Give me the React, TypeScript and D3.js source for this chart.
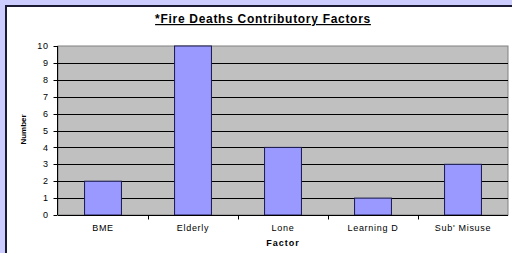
import { useEffect, useRef } from 'react';
import * as d3 from 'd3';

const factors = ['BME', 'Elderly', 'Lone', 'Learning D', "Sub' Misuse"];
const deaths = [2, 10, 4, 1, 3];
const yTicks = [0, 1, 2, 3, 4, 5, 6, 7, 8, 9, 10];

export default function App() {
  const svgRef = useRef<SVGSVGElement>(null);

  useEffect(() => {
    if (!svgRef.current) return;
    const svg = d3.select(svgRef.current);
    svg.selectAll('*').remove();

    const width = 512;
    const height = 253;
    const margin = { top: 46, right: 4, bottom: 38, left: 58 };
    const innerWidth = width - margin.left - margin.right;
    const innerHeight = height - margin.top - margin.bottom;
    const font = 'Arial, "Liberation Sans", Helvetica, sans-serif';

    // outer lavender frame + white panel
    svg.append('rect').attr('width', width).attr('height', height).attr('fill', '#ccccff');
    svg.append('rect')
      .attr('x', 6).attr('y', 6)
      .attr('width', width + 10).attr('height', height + 10)
      .attr('fill', '#ffffff')
      .attr('stroke', '#1a1a33')
      .attr('stroke-width', 2);

    svg.append('text')
      .attr('x', 263)
      .attr('y', 23)
      .attr('text-anchor', 'middle')
      .attr('font-family', font)
      .attr('font-size', 12)
      .attr('font-weight', 'bold')
      .attr('letter-spacing', 0.7)
      .attr('text-decoration', 'underline')
      .attr('fill', '#000')
      .text('*Fire Deaths Contributory Factors');

    const x = d3.scaleBand<string>().domain(factors).range([0, innerWidth]).paddingInner(0).paddingOuter(0);
    const y = d3.scaleLinear().domain([0, 10]).range([innerHeight, 0]);

    const g = svg.append('g').attr('transform', `translate(${margin.left},${margin.top})`);

    g.append('rect')
      .attr('width', innerWidth)
      .attr('height', innerHeight)
      .attr('fill', '#c0c0c0')
      .attr('stroke', '#808080')
      .attr('stroke-width', 1);

    g.selectAll('line.grid')
      .data(yTicks.filter((t) => t > 0 && t < 10))
      .join('line')
      .attr('class', 'grid')
      .attr('x1', 0)
      .attr('x2', innerWidth)
      .attr('y1', (d) => Math.round(y(d)) + 0.5)
      .attr('y2', (d) => Math.round(y(d)) + 0.5)
      .attr('stroke', '#000')
      .attr('stroke-width', 1);

    const barW = x.bandwidth() * 0.41;
    g.selectAll('rect.bar')
      .data(deaths)
      .join('rect')
      .attr('class', 'bar')
      .attr('x', (_, i) => (x(factors[i]) ?? 0) + (x.bandwidth() - barW) / 2)
      .attr('y', (d) => y(d))
      .attr('width', barW)
      .attr('height', (d) => innerHeight - y(d))
      .attr('fill', '#9999ff')
      .attr('stroke', '#1a1a4d')
      .attr('stroke-width', 1);

    // y axis
    const yAxis = g.append('g').attr('transform', 'translate(-0.5,0)');
    yAxis.append('line')
      .attr('y1', 0).attr('y2', innerHeight)
      .attr('stroke', '#000').attr('stroke-width', 1);
    yAxis.selectAll('line.tick')
      .data(yTicks)
      .join('line')
      .attr('class', 'tick')
      .attr('x1', -4).attr('x2', 0)
      .attr('y1', (d) => Math.round(y(d)) + 0.5)
      .attr('y2', (d) => Math.round(y(d)) + 0.5)
      .attr('stroke', '#000');
    yAxis.selectAll('text')
      .data(yTicks)
      .join('text')
      .attr('x', -9)
      .attr('y', (d) => y(d))
      .attr('dy', '0.35em')
      .attr('text-anchor', 'end')
      .attr('font-family', font)
      .attr('font-size', 9)
      .attr('letter-spacing', 0.6)
      .attr('fill', '#000')
      .text((d) => d);

    // x axis
    const xAxis = g.append('g').attr('transform', `translate(0,${innerHeight + 0.5})`);
    xAxis.append('line')
      .attr('x1', 0).attr('x2', innerWidth)
      .attr('stroke', '#000').attr('stroke-width', 1);
    xAxis.selectAll('line.tick')
      .data(factors.slice(1))
      .join('line')
      .attr('class', 'tick')
      .attr('x1', (d) => Math.round(x(d) ?? 0) + 0.5)
      .attr('x2', (d) => Math.round(x(d) ?? 0) + 0.5)
      .attr('y1', 0).attr('y2', 4)
      .attr('stroke', '#000');
    xAxis.selectAll('text')
      .data(factors)
      .join('text')
      .attr('x', (d) => (x(d) ?? 0) + x.bandwidth() / 2)
      .attr('y', 15.5)
      .attr('text-anchor', 'middle')
      .attr('font-family', font)
      .attr('font-size', 9)
      .attr('letter-spacing', 0.7)
      .attr('fill', '#000')
      .text((d) => d);

    g.append('text')
      .attr('x', innerWidth / 2)
      .attr('y', innerHeight + 30.5)
      .attr('text-anchor', 'middle')
      .attr('font-family', font)
      .attr('font-size', 9)
      .attr('font-weight', 'bold')
      .attr('letter-spacing', 1)
      .attr('fill', '#000')
      .text('Factor');

    g.append('text')
      .attr('transform', `translate(-32,${innerHeight / 2 - 1}) rotate(-90)`)
      .attr('text-anchor', 'middle')
      .attr('font-family', font)
      .attr('font-size', 8)
      .attr('font-weight', 'bold')
      .attr('fill', '#000')
      .text('Number');
  }, []);

  return (
    <div style={{ position: 'fixed', left: 0, top: 0 }}>
      <svg ref={svgRef} width={512} height={253} style={{ display: 'block' }} />
    </div>
  );
}
